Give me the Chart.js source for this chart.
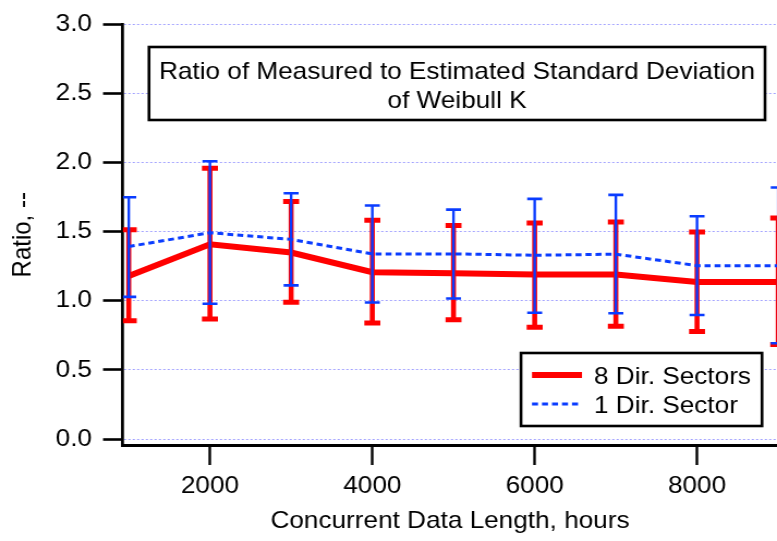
<!DOCTYPE html>
<html>
<head>
<meta charset="utf-8">
<script src="https://cdn.jsdelivr.net/npm/chart.js@4.4.0/dist/chart.umd.min.js"></script>
<style>
html,body{margin:0;padding:0;background:#fff;overflow:hidden}
#c{display:block}
</style>
</head>
<body>
<canvas id="c" width="713" height="541" style="width:777px;height:541px"></canvas>
<script>
// ---- data ----
const hours = [1000, 2000, 3000, 4000, 5000, 6000, 7000, 8000, 9000];
const ratio8 = [1.18, 1.41, 1.35, 1.207, 1.20, 1.19, 1.19, 1.136, 1.136];
const ratio8Hi = [1.514, 1.96, 1.72, 1.583, 1.545, 1.564, 1.571, 1.498, 1.60];
const ratio8Lo = [0.857, 0.869, 0.99, 0.84, 0.864, 0.81, 0.816, 0.778, 0.684];
const ratio1 = [1.393, 1.493, 1.445, 1.34, 1.34, 1.33, 1.338, 1.255, 1.255];
const ratio1Hi = [1.75, 2.01, 1.779, 1.69, 1.66, 1.738, 1.767, 1.612, 1.82];
const ratio1Lo = [1.029, 0.979, 1.112, 0.988, 1.017, 0.914, 0.91, 0.898, 0.693];
const xTickValues = [2000, 4000, 6000, 8000];
const yTickValues = [0, 0.5, 1, 1.5, 2, 2.5, 3];
const yTickLabels = ['0.0', '0.5', '1.0', '1.5', '2.0', '2.5', '3.0'];
const seriesNames = ['8 Dir. Sectors', '1 Dir. Sector'];
const titleLines = ['Ratio of Measured to Estimated Standard Deviation', 'of Weibull K'];
const xTitle = 'Concurrent Data Length, hours';
const yTitle = 'Ratio, --';

// ---- styling ----
const SX = 777 / 713;            // horizontal stretch of the canvas
const px = v => v / SX;           // screen x -> canvas x
const FAMILY = '"Liberation Sans", Arial, Helvetica, sans-serif';
const FONT = { family: FAMILY, size: 24, lineHeight: 1.2 };
const RED = '#ff0000';
const BLUE = '#0a3cff';
const GRID = '#a3a3ff';

const errorSets = [
  { hi: ratio8Hi, lo: ratio8Lo, color: RED, barW: px(5), capW: 5, cap: px(16) },
  { hi: ratio1Hi, lo: ratio1Lo, color: BLUE, barW: px(2.6), capW: 2.6, cap: px(15) }
];

const errorBars = {
  id: 'errorBars',
  afterDatasetDraw(chart, args) {
    const e = errorSets[args.index];
    if (!e) return;
    const { ctx, chartArea, scales: { x, y } } = chart;
    ctx.save();
    ctx.beginPath();
    ctx.rect(chartArea.left, 0, chartArea.right - chartArea.left, chart.height);
    ctx.clip();
    ctx.strokeStyle = e.color;
    ctx.setLineDash([]);
    ctx.lineCap = 'butt';
    hours.forEach((h, i) => {
      const xp = x.getPixelForValue(h);
      const yt = y.getPixelForValue(e.hi[i]);
      const yb = y.getPixelForValue(e.lo[i]);
      ctx.lineWidth = e.barW;
      ctx.beginPath();
      ctx.moveTo(xp, yt); ctx.lineTo(xp, yb);
      ctx.stroke();
      ctx.lineWidth = e.capW;
      ctx.beginPath();
      ctx.moveTo(xp - e.cap / 2, yt); ctx.lineTo(xp + e.cap / 2, yt);
      ctx.moveTo(xp - e.cap / 2, yb); ctx.lineTo(xp + e.cap / 2, yb);
      ctx.stroke();
    });
    ctx.restore();
  }
};

function drawBox(ctx, x1, y1, x2, y2) {
  ctx.save();
  ctx.fillStyle = '#fff';
  ctx.fillRect(x1, y1, x2 - x1, y2 - y1);
  ctx.lineWidth = 2.6;
  ctx.strokeStyle = '#000';
  ctx.setLineDash([]);
  ctx.strokeRect(x1, y1, x2 - x1, y2 - y1);
  ctx.restore();
}

const boxes = {
  id: 'boxes',
  afterDraw(chart) {
    const ctx = chart.ctx;
    const ds = chart.data.datasets;
    // title box
    drawBox(ctx, px(149), 47, px(765), 120);
    ctx.save();
    ctx.fillStyle = '#000';
    ctx.font = `24px ${FAMILY}`;
    ctx.textAlign = 'center';
    ctx.textBaseline = 'alphabetic';
    const cx = (px(149) + px(765)) / 2;
    ctx.fillText(titleLines[0], cx, 79);
    ctx.fillText(titleLines[1], cx, 108);
    ctx.restore();
    // legend box
    drawBox(ctx, px(521), 353, px(762), 426);
    const rows = [375, 404];
    ds.forEach((d, i) => {
      const yy = rows[i];
      ctx.save();
      ctx.strokeStyle = d.borderColor;
      ctx.lineWidth = d.borderWidth;
      ctx.setLineDash(d.borderDash || []);
      ctx.lineCap = 'butt';
      ctx.beginPath();
      ctx.moveTo(px(532), yy); ctx.lineTo(px(582), yy);
      ctx.stroke();
      ctx.setLineDash([]);
      ctx.fillStyle = '#000';
      ctx.font = `24px ${FAMILY}`;
      ctx.textAlign = 'left';
      ctx.textBaseline = 'alphabetic';
      ctx.fillText(d.label, px(594), yy + 8.5);
      ctx.restore();
    });
  }
};

new Chart(document.getElementById('c'), {
  type: 'line',
  data: {
    datasets: [
      {
        label: seriesNames[0],
        data: hours.map((h, i) => ({ x: h, y: ratio8[i] })),
        borderColor: RED, backgroundColor: RED,
        borderWidth: 6, pointRadius: 0, tension: 0, fill: false,
        borderJoinStyle: 'miter', order: 2
      },
      {
        label: seriesNames[1],
        data: hours.map((h, i) => ({ x: h, y: ratio1[i] })),
        borderColor: BLUE, backgroundColor: BLUE,
        borderWidth: 3, borderDash: [px(6), px(4)], pointRadius: 0, tension: 0, fill: false,
        order: 1
      }
    ]
  },
  options: {
    responsive: false,
    devicePixelRatio: 1,
    animation: false,
    events: [],
    layout: { padding: { top: 19, left: 0, right: 0, bottom: 0 } },
    plugins: { legend: { display: false }, tooltip: { enabled: false }, title: { display: false } },
    scales: {
      x: {
        type: 'linear', min: 929, max: 8985,
        afterBuildTicks: s => { s.ticks = xTickValues.map(v => ({ value: v })); },
        afterFit: s => { s.height = 96; },
        ticks: { color: '#000', font: FONT, padding: 6.6, maxRotation: 0, autoSkip: false, callback: v => String(v) },
        grid: { drawOnChartArea: false, drawTicks: true, tickLength: 20, tickColor: '#000', tickWidth: px(2.6), color: '#000' },
        border: { display: true, color: '#000', width: 3 },
        title: { display: true, text: xTitle, color: '#000', font: FONT, padding: { top: 0, bottom: 5.6 } }
      },
      y: {
        type: 'linear', min: -0.043, max: 3.0,
        afterBuildTicks: s => { s.ticks = yTickValues.map(v => ({ value: v })); },
        afterFit: s => { s.width = px(123); },
        ticks: { color: '#000', font: FONT, padding: 10.1, callback: v => yTickLabels[yTickValues.indexOf(v)] },
        grid: { color: GRID, lineWidth: 1, drawTicks: true, tickLength: px(20), tickColor: '#000', tickWidth: 2.6, tickBorderDash: [] },
        border: { display: true, color: '#000', width: px(3), dash: [2, 2] },
        title: { display: true, text: yTitle, color: '#000', font: FONT, padding: { top: 6.6, bottom: 0 } }
      }
    }
  },
  plugins: [errorBars, boxes]
});
</script>
</body>
</html>
